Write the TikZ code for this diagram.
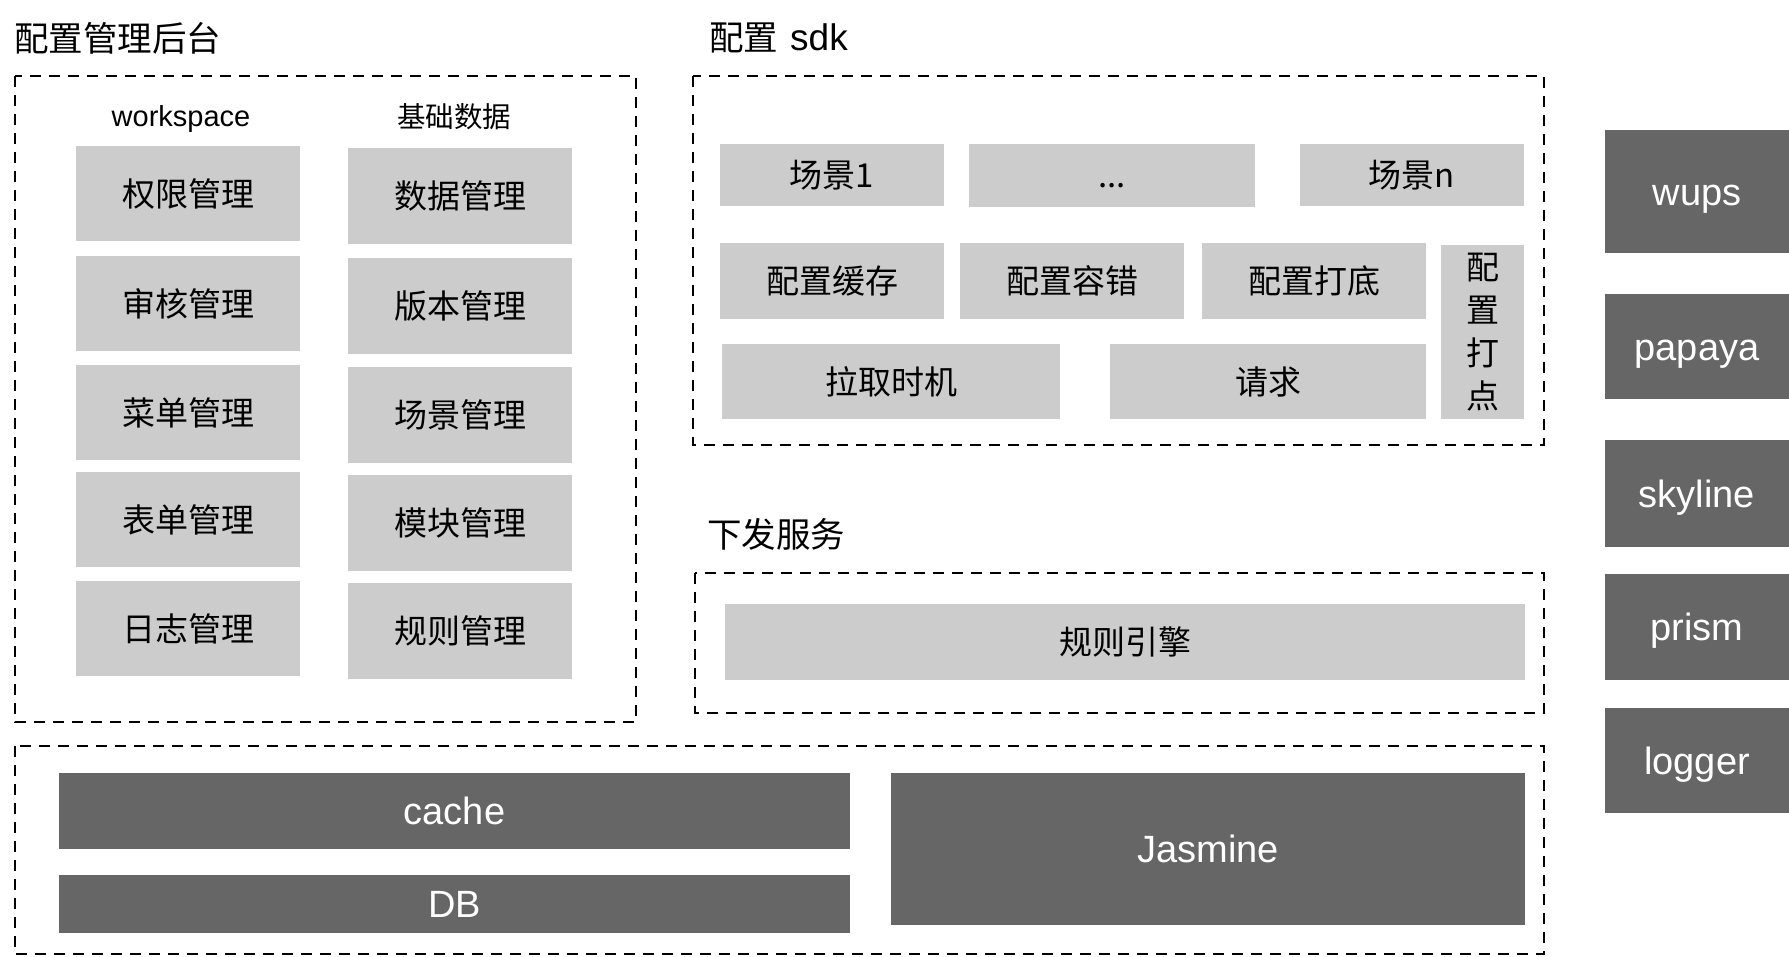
\documentclass[tikz,border=0pt]{standalone}
\usepackage{fontspec}
\setmainfont{Liberation Sans}
\newfontfamily\cjk{Noto Sans CJK SC}
\definecolor{boxgray}{HTML}{CCCCCC}
\definecolor{basedark}{HTML}{666666}
\tikzset{
  lightbox/.style={fill=boxgray, inner sep=0pt, outer sep=0pt, anchor=north west, font=\cjk\fontsize{33}{43}\selectfont},
  darkbox/.style={fill=basedark, text=white, inner sep=0pt, outer sep=0pt, anchor=north west, text height=35pt, text depth=7.6pt, font=\fontsize{38}{44}\selectfont},
  groupbox/.style={draw=black, line width=2.8pt, dash pattern=on 11pt off 8pt},
  titletext/.style={anchor=west, inner sep=0pt, font=\cjk\fontsize{34.5}{40}\selectfont},
}
\begin{document}
\begin{tikzpicture}[x=1pt, y=-1pt]
    \useasboundingbox (0,0) rectangle (1789,957);
    % admin panel
    \node[titletext] (admtitle) at (14,38) {配置管理后台};
    \draw[groupbox] (15,76) rectangle (636,722);
    \node[font=\fontsize{29}{34}\selectfont] (wstitle) at (181,119) {workspace};
    \node[font=\cjk\fontsize{28.5}{34}\selectfont] (basetitle) at (454,117) {基础数据};
    \foreach \id/\txt/\y in {qx/权限管理/146, sh/审核管理/256, cd/菜单管理/365, bd/表单管理/472, rz/日志管理/581}
        \node[lightbox, minimum width=224pt, minimum height=95pt] (\id) at (76,\y) {\txt};
    \foreach \id/\txt/\y in {sj/数据管理/148, bb/版本管理/258, cj/场景管理/367, mk/模块管理/475, gz/规则管理/583}
        \node[lightbox, minimum width=224pt, minimum height=96pt] (\id) at (348,\y) {\txt};
    % sdk
    \node[titletext] (sdktitle) at (709,38) {配置\hspace{12pt}{\rmfamily\fontsize{37}{40}\selectfont sdk}};
    \draw[groupbox] (693,76) rectangle (1544,445);
    \node[lightbox, minimum width=224pt, minimum height=62pt] (scene1) at (720,144) {场景1};
    \node[lightbox, minimum width=286pt, minimum height=63pt, text height=29pt, text depth=4pt] (scenedots) at (969,144) {...};
    \node[lightbox, minimum width=224pt, minimum height=62pt] (scenen) at (1300,144) {场景n};
    \node[lightbox, minimum width=224pt, minimum height=76pt] (cfgcache) at (720,243) {配置缓存};
    \node[lightbox, minimum width=224pt, minimum height=76pt] (cfgfault) at (960,243) {配置容错};
    \node[lightbox, minimum width=224pt, minimum height=76pt] (cfgfloor) at (1202,243) {配置打底};
    \node[lightbox, minimum width=83pt, minimum height=174pt, align=center] (cfgtrack) at (1441,245) {配\\置\\打\\点};
    \node[lightbox, minimum width=338pt, minimum height=75pt] (pulltime) at (722,344) {拉取时机};
    \node[lightbox, minimum width=316pt, minimum height=75pt] (request) at (1110,344) {请求};
    % push service
    \node[titletext] (pushtitle) at (707,534) {下发服务};
    \draw[groupbox] (695,573) rectangle (1544,713);
    \node[lightbox, minimum width=800pt, minimum height=76pt] (ruleengine) at (725,604) {规则引擎};
    % storage
    \draw[groupbox] (15,746) rectangle (1544,954);
    \node[darkbox, minimum width=791pt, minimum height=76pt] (cache) at (59,773) {cache};
    \node[darkbox, minimum width=791pt, minimum height=58pt] (db) at (59,875) {DB};
    \node[darkbox, minimum width=634pt, minimum height=152pt] (jasmine) at (891,773) {Jasmine};
    % side services
    \node[darkbox, minimum width=184pt, minimum height=123pt] (wups) at (1605,130) {wups};
    \node[darkbox, minimum width=184pt, minimum height=105pt] (papaya) at (1605,294) {papaya};
    \node[darkbox, minimum width=184pt, minimum height=107pt] (skyline) at (1605,440) {skyline};
    \node[darkbox, minimum width=184pt, minimum height=106pt] (prism) at (1605,574) {prism};
    \node[darkbox, minimum width=184pt, minimum height=105pt] (logger) at (1605,708) {logger};
\end{tikzpicture}
\end{document}
